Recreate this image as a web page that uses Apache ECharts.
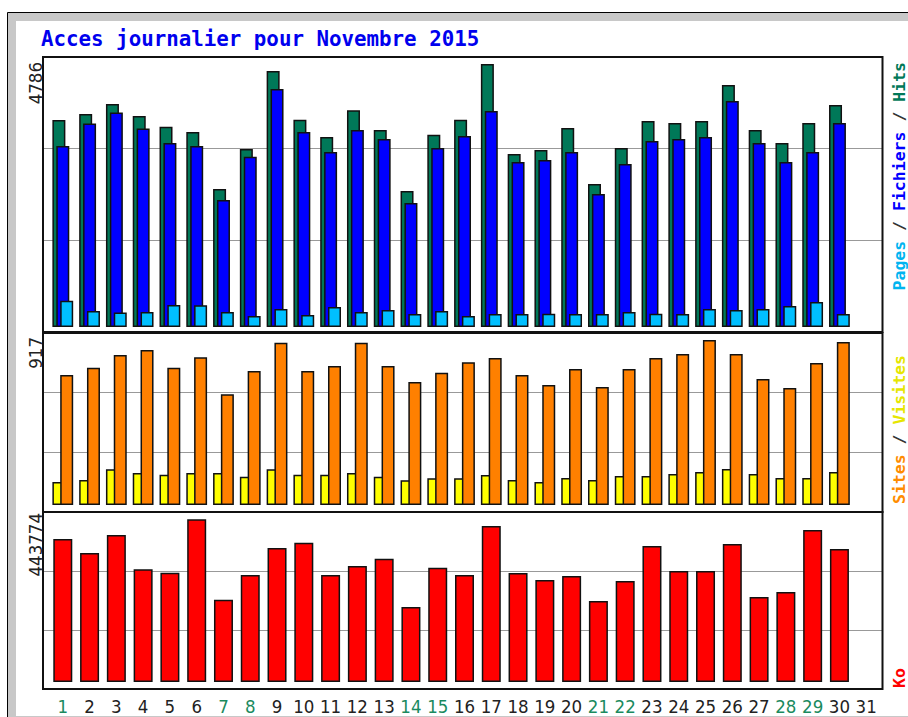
<!DOCTYPE html>
<html>
<head>
<meta charset="utf-8">
<title>Acces journalier pour Novembre 2015</title>
<script src="https://cdn.jsdelivr.net/npm/echarts@6/dist/echarts.min.js"></script>
<style>
  html, body { margin: 0; padding: 0; background: #fff; }
  #main { width: 908px; height: 717px; }
</style>
</head>
<body>
<div id="main"></div>
<script>
// jours du mois
var days = ['1', '2', '3', '4', '5', '6', '7', '8', '9', '10', '11', '12', '13', '14', '15', '16',
  '17', '18', '19', '20', '21', '22', '23', '24', '25', '26', '27', '28', '29', '30', '31'];
var weekendDays = ['1', '7', '8', '14', '15', '21', '22', '28', '29'];

// panneau du haut
var hits = [3767, 3877, 4058, 3840, 3645, 3549, 2512, 3240, 4659, 3773, 3458, 3943, 3585, 2475, 3500,
  3773, 4786, 3149, 3221, 3622, 2603, 3258, 3749, 3713, 3749, 4404, 3585, 3349, 3713, 4040];
var fichiers = [3294, 3701, 3902, 3610, 3348, 3294, 2311, 3099, 4332, 3549, 3184, 3585, 3422, 2257, 3258,
  3476, 3931, 3003, 3039, 3185, 2421, 2967, 3385, 3422, 3458, 4113, 3349, 3003, 3185, 3713];
var pages = [479, 291, 262, 273, 400, 398, 271, 200, 328, 218, 364, 275, 309, 237, 291,
  202, 237, 235, 239, 236, 238, 273, 240, 236, 328, 309, 326, 382, 455, 237];

// panneau du milieu
var visites = [128, 139, 198, 178, 168, 178, 178, 157, 198, 168, 168, 178, 157, 137, 148,
  148, 167, 139, 128, 150, 139, 161, 161, 172, 183, 200, 172, 150, 150, 183];
var sites = [723, 763, 834, 861, 763, 821, 615, 745, 902, 745, 773, 902, 773, 684, 735,
  793, 817, 723, 667, 756, 656, 756, 817, 839, 917, 839, 700, 650, 789, 906];

// panneau du bas
var ko = [390033, 351848, 400943, 307389, 298116, 443774, 224473, 291843, 365485, 379941, 291843, 316390,
  336301, 204563, 311753, 291843, 425490, 297298, 278205, 289115, 220928, 275478, 370940, 302753,
  302753, 376395, 231838, 245475, 414580, 362758];

var maxHits = Math.max.apply(null, hits);
var maxSites = Math.max.apply(null, sites);
var maxKo = Math.max.apply(null, ko);

var numFont = "'DejaVu Sans Condensed', 'DejaVu Sans', sans-serif";
var monoFont = "'DejaVu Sans Mono', monospace";

var chart = echarts.init(document.getElementById('main'), null, { renderer: 'svg' });

var dataLeft = 49.4, dataRight = 908 - 879.6;
var frameLeft = 43, frameRight = 908 - 882.5;

var barBorder = { borderColor: '#111', borderWidth: 1.5 };

function hiddenCat(i, showLabels) {
  return {
    type: 'category', gridIndex: i, data: days,
    axisLine: { show: false }, axisTick: { show: false },
    axisLabel: {
      show: showLabels, interval: 0, margin: 15,
      fontFamily: numFont, fontSize: 18.5,
      color: function (v) { return weekendDays.indexOf(v) >= 0 ? '#1a8a5e' : '#222'; }
    }
  };
}
function hiddenVal(i, max) {
  return { type: 'value', gridIndex: i, min: 0, max: max, show: false };
}
function frameY(i) {
  return {
    type: 'value', gridIndex: i, min: 0, max: 3, interval: 1,
    axisLine: { show: false }, axisTick: { show: false }, axisLabel: { show: false },
    splitLine: { lineStyle: { color: '#999', width: 1 } }
  };
}

function legendRich(colors) {
  var rich = {};
  Object.keys(colors).forEach(function (k) {
    rich[k] = { fill: colors[k], fontFamily: monoFont, fontWeight: 'bold', fontSize: 16.5 };
  });
  return rich;
}

var option = {
  animation: false,
  backgroundColor: '#fff',
  title: {
    text: 'Acces journalier pour Novembre 2015',
    left: 41, top: 28, padding: 0,
    textStyle: { fontFamily: monoFont, fontWeight: 'bold', fontSize: 20.8, color: '#0000ee' }
  },
  grid: [
    { left: dataLeft, right: dataRight, top: 57, height: 270 },
    { left: dataLeft, right: dataRight, top: 333, height: 172 },
    { left: dataLeft, right: dataRight, top: 513, height: 169 },
    { left: frameLeft, right: frameRight, top: 57, height: 275 },
    { left: frameLeft, right: frameRight, top: 333, height: 179 },
    { left: frameLeft, right: frameRight, top: 512, height: 177 }
  ],
  xAxis: [
    hiddenCat(0, false), hiddenCat(1, false), hiddenCat(2, true),
    { type: 'value', gridIndex: 3, show: false },
    { type: 'value', gridIndex: 4, show: false },
    { type: 'value', gridIndex: 5, show: false }
  ],
  yAxis: [
    hiddenVal(0, maxHits * 270 / 263),
    hiddenVal(1, maxSites * 172 / 165),
    hiddenVal(2, maxKo * 169 / 162.7),
    frameY(3), frameY(4), frameY(5)
  ],
  series: [
    { name: 'Hits', type: 'bar', xAxisIndex: 0, yAxisIndex: 0, data: hits, barWidth: 13, barGap: '-70%',
      itemStyle: Object.assign({ color: '#007858' }, barBorder) },
    { name: 'Fichiers', type: 'bar', xAxisIndex: 0, yAxisIndex: 0, data: fichiers, barWidth: 13, barGap: '-70%',
      itemStyle: Object.assign({ color: '#0000ff' }, barBorder) },
    { name: 'Pages', type: 'bar', xAxisIndex: 0, yAxisIndex: 0, data: pages, barWidth: 13, barGap: '-70%',
      itemStyle: Object.assign({ color: '#00bfff' }, barBorder) },
    { name: 'Visites', type: 'bar', xAxisIndex: 1, yAxisIndex: 1, data: visites, barWidth: 13, barGap: '-40%',
      itemStyle: Object.assign({ color: '#ffff00' }, barBorder) },
    { name: 'Sites', type: 'bar', xAxisIndex: 1, yAxisIndex: 1, data: sites, barWidth: 13, barGap: '-40%',
      itemStyle: Object.assign({ color: '#ff8000' }, barBorder) },
    { name: 'Ko', type: 'bar', xAxisIndex: 2, yAxisIndex: 2, data: ko, barWidth: 19,
      itemStyle: Object.assign({ color: '#ff0000' }, barBorder) }
  ],
  graphic: [
    // cadre extérieur
    { type: 'rect', z: -20, shape: { x: 7.5, y: 12.5, width: 1000, height: 1000 },
      style: { fill: '#c8c8c8', stroke: '#000', lineWidth: 1 } },
    { type: 'rect', z: -19, shape: { x: 16, y: 21, width: 1000, height: 695 },
      style: { fill: '#fff' } },
    // cadres des panneaux
    { type: 'rect', z: 50, shape: { x: 43, y: 57, width: 839.5, height: 275 },
      style: { fill: 'none', stroke: '#111', lineWidth: 2 } },
    { type: 'rect', z: 50, shape: { x: 43, y: 333, width: 839.5, height: 179 },
      style: { fill: 'none', stroke: '#111', lineWidth: 2 } },
    { type: 'rect', z: 50, shape: { x: 43, y: 512, width: 839.5, height: 177 },
      style: { fill: 'none', stroke: '#111', lineWidth: 2 } },
    // valeurs max
    { type: 'text', z: 60, x: 35, y: 62, rotation: Math.PI / 2,
      style: { text: String(maxHits), fontFamily: numFont, fontSize: 18.5, fill: '#222', align: 'right', verticalAlign: 'middle' } },
    { type: 'text', z: 60, x: 35, y: 337, rotation: Math.PI / 2,
      style: { text: String(maxSites), fontFamily: numFont, fontSize: 18.5, fill: '#222', align: 'right', verticalAlign: 'middle' } },
    { type: 'text', z: 60, x: 35, y: 513, rotation: Math.PI / 2,
      style: { text: String(maxKo), fontFamily: numFont, fontSize: 18.5, fill: '#222', align: 'right', verticalAlign: 'middle' } },
    // légendes verticales
    { type: 'text', z: 60, x: 899.5, y: 62, rotation: Math.PI / 2,
      style: {
        text: '{p|Pages} {s|/} {f|Fichiers} {s|/} {h|Hits}',
        fontFamily: monoFont, fontWeight: 'bold', fontSize: 16.5, align: 'right', verticalAlign: 'middle',
        rich: legendRich({ p: '#00b4f0', f: '#0000ff', h: '#007858', s: '#333' })
      } },
    { type: 'text', z: 60, x: 899.5, y: 355, rotation: Math.PI / 2,
      style: {
        text: '{o|Sites} {s|/} {y|Visites}',
        fontFamily: monoFont, fontWeight: 'bold', fontSize: 16.5, align: 'right', verticalAlign: 'middle',
        rich: legendRich({ o: '#ff8c00', y: '#e6e600', s: '#333' })
      } },
    { type: 'text', z: 60, x: 899.5, y: 668, rotation: Math.PI / 2,
      style: { text: 'Ko', fontFamily: monoFont, fontWeight: 'bold', fontSize: 16.5, fill: '#ff0000', align: 'right', verticalAlign: 'middle' } }
  ]
};

chart.setOption(option);
</script>
</body>
</html>
